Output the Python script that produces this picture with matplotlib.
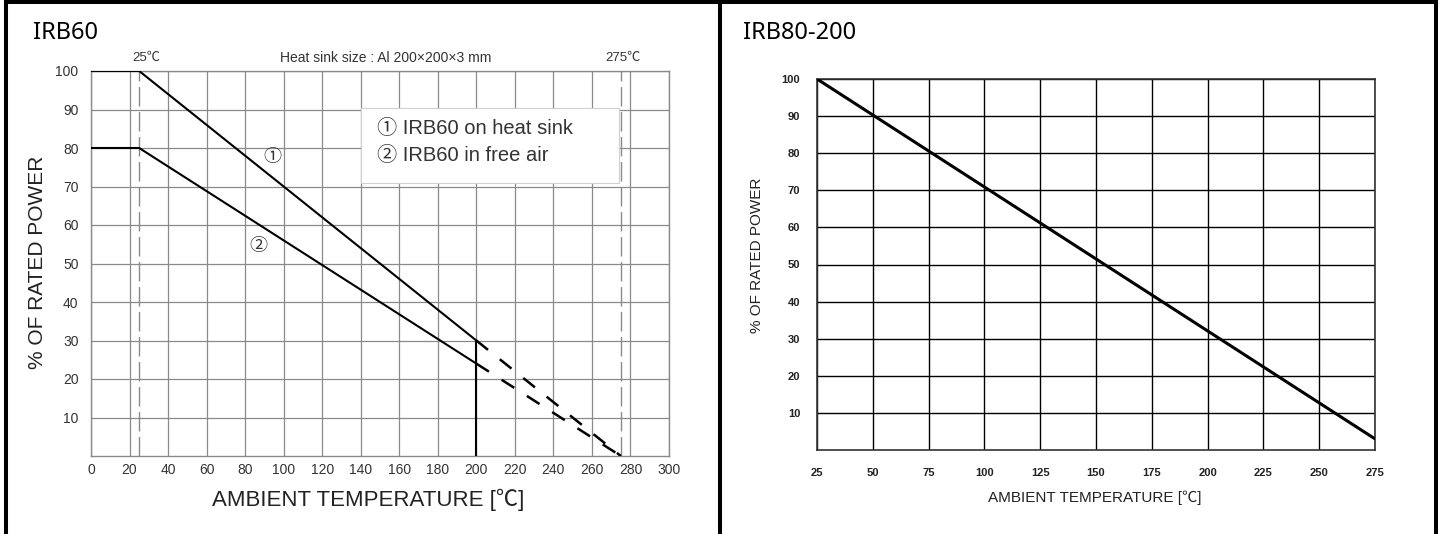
import matplotlib
matplotlib.use("Agg")
import matplotlib.pyplot as plt
from matplotlib.lines import Line2D
from matplotlib.patches import Rectangle

# ---------------- data ----------------
left_title = "IRB60"
right_title = "IRB80-200"

# IRB60 curve 1 (on heat sink)
c1_x = [0, 25, 200]
c1_y = [100, 100, 30]
c1_ext_x = [200, 275]
c1_ext_y = [30, 0]
# IRB60 curve 2 (free air)
c2_x = [0, 25, 200]
c2_y = [80, 80, 24]
c2_ext_x = [200, 275]
c2_ext_y = [24, 0]
cutoff_x = [200, 200]
cutoff_y = [0, 30]
marker_temps = [25, 275]

left_xticks = list(range(0, 301, 20))
left_yticks = list(range(10, 101, 10))

# IRB80-200 curve
r_x = [25, 275]
r_y = [100, 3]
right_xticks = list(range(25, 276, 25))
right_yticks = list(range(10, 101, 10))

legend_lines = ["\u2460 IRB60 on heat sink", "\u2461 IRB60 in free air"]

FONT = ["Liberation Sans", "DejaVu Sans"]
CJK = ["Liberation Sans", "Noto Sans CJK KR", "DejaVu Sans"]
TITLE_FONT = ["Noto Sans", "DejaVu Sans"]
plt.rcParams["font.family"] = FONT

W, H = 1442, 534
fig = plt.figure(figsize=(W / 100, H / 100), dpi=100)


def fx(px):
    return px / W


def fy(py):
    return 1 - py / H


# ---------------- left panel ----------------
axL = fig.add_axes([fx(91), fy(456), fx(669) - fx(91), fy(71) - fy(456)])
axL.set_xlim(0, 300)
axL.set_ylim(0, 100)
axL.set_xticks(left_xticks)
axL.set_yticks(left_yticks)
axL.tick_params(length=0, labelsize=10, colors="#333333", pad=5)
axL.tick_params(axis="y", pad=9)
axL.grid(True, color="#8a8a8a", lw=0.9)
axL.set_axisbelow(True)
for s in axL.spines.values():
    s.set_color("#8a8a8a")
    s.set_linewidth(1.0)

for t in marker_temps:
    axL.axvline(t, color="#8a8a8a", lw=1.0, dashes=(14, 4), zorder=2)

axL.plot(c1_x, c1_y, color="black", lw=1.5, zorder=4)
axL.plot(c2_x, c2_y, color="black", lw=1.5, zorder=4)
axL.plot(c1_ext_x, c1_ext_y, color="black", lw=1.8, dashes=(6, 6), zorder=4)
axL.plot(c2_ext_x, c2_ext_y, color="black", lw=1.8, dashes=(6, 6), zorder=4)
axL.plot(cutoff_x, cutoff_y, color="black", lw=1.5, zorder=4)

axL.add_patch(Rectangle((140, 71), 134, 19.5, facecolor="white",
                        edgecolor="#d0d0d0", lw=0.8, zorder=3))
axL.text(148.5, 85, legend_lines[0], fontsize=14.5, family=CJK, color="#333333",
         va="center", ha="left", zorder=5)
axL.text(148.5, 78, legend_lines[1], fontsize=14.5, family=CJK, color="#333333",
         va="center", ha="left", zorder=5)

axL.text(94, 77.5, "\u2460", fontsize=13, family=CJK, color="#333333",
         ha="center", va="center", zorder=5)
axL.text(87, 54.5, "\u2461", fontsize=13, family=CJK, color="#333333",
         ha="center", va="center", zorder=5)

# header texts
fig.text(fx(146), fy(58), "25\u2103", fontsize=9.5, family=CJK, color="#333333",
         ha="center", va="center")
fig.text(fx(386), fy(58), "Heat sink size : Al 200\u00d7200\u00d73 mm", fontsize=10,
         family=CJK, color="#333333", ha="center", va="center")
fig.text(fx(623), fy(58), "275\u2103", fontsize=9.5, family=CJK, color="#333333",
         ha="center", va="center")

fig.text(fx(38), fy(262), "% OF RATED POWER", fontsize=15, rotation=90,
         family=CJK, color="#222222", ha="center", va="center")
fig.text(fx(368), fy(500), "AMBIENT TEMPERATURE [\u2103]", fontsize=16,
         family=CJK, color="#222222", ha="center", va="center")
fig.text(fx(33), fy(33), left_title, fontsize=17, family=TITLE_FONT,
         color="black", ha="left", va="center")

# ---------------- right panel ----------------
axR = fig.add_axes([fx(817), fy(450), fx(1375) - fx(817), fy(79) - fy(450)])
axR.set_xlim(25, 275)
axR.set_ylim(0, 100)
axR.set_xticks(right_xticks)
axR.set_yticks(right_yticks)
axR.tick_params(length=0, labelsize=8, colors="#222222")
axR.tick_params(axis="x", pad=13)
axR.tick_params(axis="y", pad=12)
for lab in axR.get_xticklabels() + axR.get_yticklabels():
    lab.set_fontweight("bold")
axR.grid(True, color="black", lw=1.0)
axR.set_axisbelow(True)
for s in axR.spines.values():
    s.set_color("#333333")
    s.set_linewidth(1.2)
axR.plot(r_x, r_y, color="black", lw=2.2, zorder=4)

fig.text(fx(757), fy(255), "% OF RATED POWER", fontsize=11, rotation=90,
         family=CJK, color="#222222", ha="center", va="center")
fig.text(fx(1095), fy(498), "AMBIENT TEMPERATURE [\u2103]", fontsize=11,
         family=CJK, color="#222222", ha="center", va="center")
fig.text(fx(743), fy(33), right_title, fontsize=17, family=TITLE_FONT,
         color="black", ha="left", va="center")

# ---------------- frame borders ----------------
bw = 2.9
for x0, y0, x1, y1 in [(6, 2, 1436, 2), (6, 2, 6, 534), (720, 2, 720, 534),
                       (1436, 2, 1436, 534)]:
    fig.add_artist(Line2D([fx(x0), fx(x1)], [fy(y0), fy(y1)], color="black",
                          lw=bw, solid_capstyle="projecting"))

fig.savefig("out.png", dpi=100, facecolor="white")
